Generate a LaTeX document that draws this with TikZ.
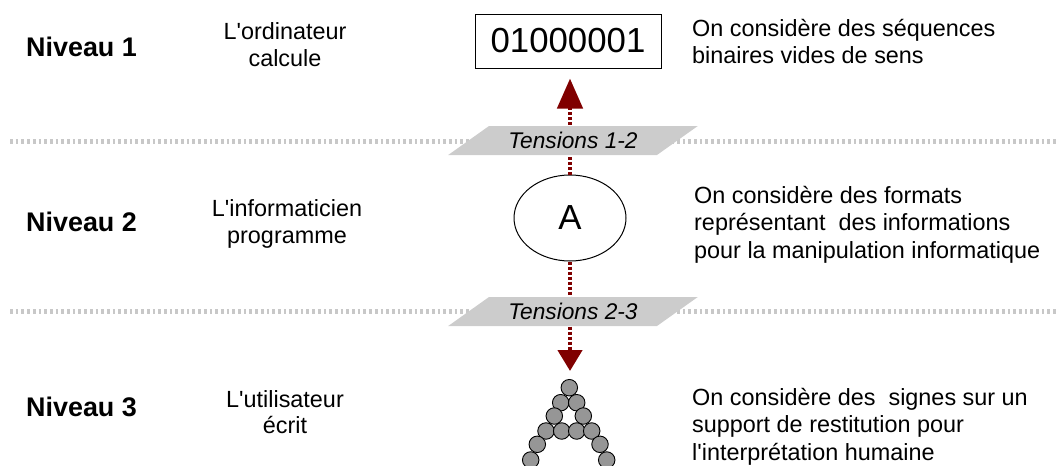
\documentclass[tikz,border=0pt]{standalone}
\usepackage{fontspec}
\setmainfont{Liberation Sans}[Ligatures=TeXOff]
\usetikzlibrary{arrows.meta,shapes.geometric}
\definecolor{arrowred}{RGB}{128,0,0}
\definecolor{sepgray}{RGB}{200,200,200}
\definecolor{tensgray}{RGB}{204,204,204}
\definecolor{dotgray}{RGB}{150,150,150}
\newcommand\mytab[2]{\begin{tabular}[t]{@{}#1@{}}#2\end{tabular}}
\begin{document}
\begin{tikzpicture}[x=1pt,y=-1pt,
  sep/.style={draw=sepgray, line width=5pt, dash pattern=on 2.7pt off 3pt},
  link/.style={draw=arrowred, line width=4.5pt, dash pattern=on 3pt off 2pt},
  lvl/.style={inner sep=0pt, font=\fontsize{26.9}{31}\selectfont\bfseries},
  txt/.style={inner sep=0pt, font=\fontsize{23.4}{27.5}\selectfont},
  midtxt/.style={inner sep=0pt, font=\fontsize{23.4}{26.5}\selectfont},
  bin/.style={draw, line width=1pt, minimum width=186pt, minimum height=54pt, inner sep=0pt, font=\fontsize{34.8}{40}\selectfont},
  ell/.style={ellipse, draw, line width=1pt, minimum width=112pt, minimum height=86pt, inner sep=0pt, font=\fontsize{34.8}{40}\selectfont},
  tens/.style={trapezium, trapezium left angle=28, trapezium right angle=152, trapezium stretches=true, minimum width=250pt, minimum height=29pt, fill=tensgray, inner sep=0pt, font=\fontsize{22.7}{27}\selectfont\itshape},
  dot/.style={circle, draw, line width=0.9pt, fill=dotgray, minimum size=16.5pt, inner sep=0pt}
]
\useasboundingbox (0,0) rectangle (1058,466);

% separators
\draw[sep] (10,141) -- (1058,141);
\draw[sep] (10,311.5) -- (1058,311.5);

% left column
\node[lvl, anchor=base west] (n1) at (26,56) {Niveau 1};
\node[lvl, anchor=base west] (n2) at (26,231.7) {Niveau 2};
\node[lvl, anchor=base west] (n3) at (26,416.7) {Niveau 3};

% middle column
\node[midtxt, anchor=base] (m1) at (285,39.5) {\mytab{c}{L'ordinateur\\calcule}};
\node[midtxt, anchor=base] (m2) at (287,216.7) {\mytab{c}{L'informaticien\\programme}};
\node[midtxt, anchor=base] (m3) at (285,407) {\mytab{c}{L'utilisateur\\écrit}};

% right column
\node[txt, anchor=base west] (r1) at (692,36) {\mytab{l}{On considère des séquences\\binaires vides de sens}};
\node[txt, anchor=base west] (r2) at (694,203) {\mytab{l}{On considère des formats\\représentant~\ des informations\\pour la manipulation informatique}};
\node[txt, anchor=base west] (r3) at (692,405) {\mytab{l}{On considère des~\ signes sur un\\support de restitution pour\\l'interprétation humaine}};

% representations
\node[bin] (box) at (568,41) {01000001};
\node[ell] (ell) at (570,218) {A};

\node[dot] (d1) at (569.3,387.7) {};
\node[dot] (d2) at (560.7,402.7) {};
\node[dot] (d3) at (576.7,402.7) {};
\node[dot] (d4) at (554.3,416) {};
\node[dot] (d5) at (583.3,416) {};
\node[dot] (d6) at (546,431) {};
\node[dot] (d7) at (561.7,431) {};
\node[dot] (d8) at (576.7,431) {};
\node[dot] (d9) at (591.7,431) {};
\node[dot] (d10) at (537.3,444.3) {};
\node[dot] (d11) at (600,444.3) {};
\node[dot] (d12) at (530.7,460) {};
\node[dot] (d13) at (606.7,460) {};

% arrows
\draw[link, -{Triangle[length=30pt,width=25pt]}, shorten >=10pt] (ell.north) -- (ell.north |- box.south);
\draw[link, -{Triangle[length=21pt,width=24pt]}, shorten >=8pt] (ell.south) -- (ell.south |- d1.north);

% tensions
\node[tens] (t12) at (573,140.5) {Tensions 1-2};
\node[tens] (t23) at (573,311.5) {Tensions 2-3};
\end{tikzpicture}
\end{document}
